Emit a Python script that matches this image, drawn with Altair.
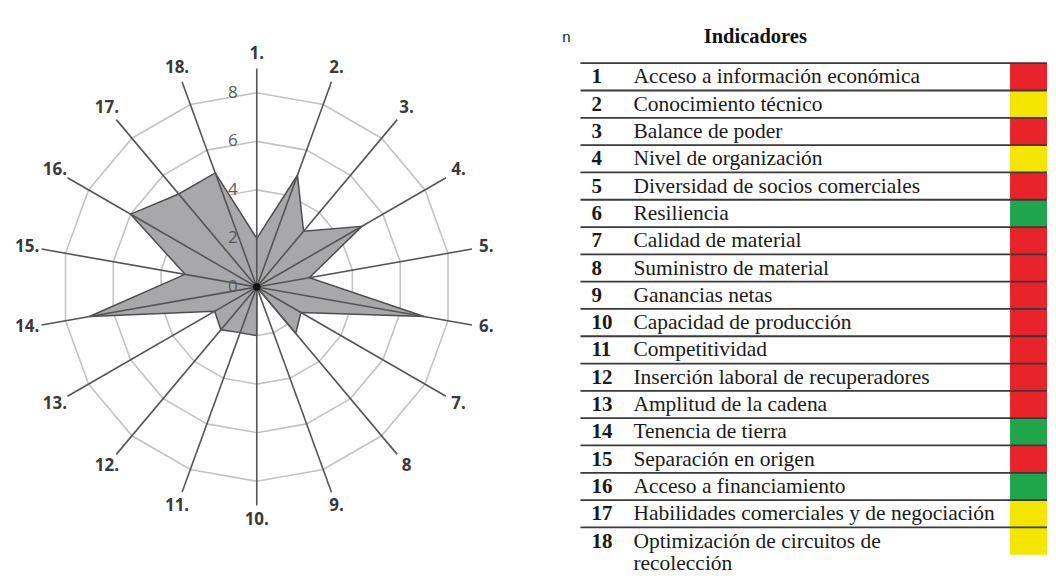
import altair as alt
import pandas as pd

# ---------------- data ----------------
indicador_n = list(range(1, 19))
valores = [2, 4.9, 3, 5, 2.2, 7, 2.1, 2.5, 0, 2, 2, 2.3, 2, 7, 3, 6, 5, 5]
etiquetas_radar = ["1.", "2.", "3.", "4.", "5.", "6.", "7.", "8", "9.", "10.",
                   "11.", "12.", "13.", "14.", "15.", "16.", "17.", "18."]
niveles_anillo = [2, 4, 6, 8]
niveles_texto = ["0", "2", "4", "6", "8"]
niveles_valor = [0, 2, 4, 6, 8]
nombres = [
    "Acceso a información económica",
    "Conocimiento técnico",
    "Balance de poder",
    "Nivel de organización",
    "Diversidad de socios comerciales",
    "Resiliencia",
    "Calidad de material",
    "Suministro de material",
    "Ganancias netas",
    "Capacidad de producción",
    "Competitividad",
    "Inserción laboral de recuperadores",
    "Amplitud de la cadena",
    "Tenencia de tierra",
    "Separación en origen",
    "Acceso a financiamiento",
    "Habilidades comerciales y de negociación",
    "Optimización de circuitos de\nrecolección",
]
estado = ["rojo", "amarillo", "rojo", "amarillo", "rojo", "verde", "rojo", "rojo",
          "rojo", "rojo", "rojo", "rojo", "rojo", "verde", "rojo", "verde",
          "amarillo", "amarillo"]
estado_orden = ["rojo", "amarillo", "verde"]
estado_color = ["#e8232a", "#f4e600", "#1fa64a"]
cabecera_n = "n"
cabecera_ind = "Indicadores"
radio_eje = 9
radio_etiqueta = 9.6

# ---------------- layout (pixels) ----------------
RW, RH = 500, 560          # radar view
CX, CY = 249, 279          # centre inside radar view
S = 24.3                   # px per unit
TW, TH = 488, 560          # table view
ROW_TOP = 55               # y of first table line inside table view
ROW_H = 27.33
BOX_X = 451

xs = alt.Scale(domain=[-CX / S, (RW - CX) / S], nice=False, zero=False)
ys = alt.Scale(domain=[-(RH - CY) / S, CY / S], nice=False, zero=False)

ANG = "(datum.n - 1) * PI / 9"

poly = pd.DataFrame({"n": indicador_n + [19], "v": valores + [valores[0]]})
rings = pd.DataFrame([{"lvl": l, "n": k} for l in niveles_anillo for k in range(1, 20)])
spokes = pd.DataFrame({"n": indicador_n, "lab": etiquetas_radar})
ticks = pd.DataFrame({"t": niveles_texto, "v": niveles_valor})

ring_layer = alt.Chart(rings).mark_line(stroke="#c3c3c3", strokeWidth=1.6).transform_calculate(
    x=f"datum.lvl * sin({ANG})", y=f"datum.lvl * cos({ANG})"
).encode(
    x=alt.X("x:Q", scale=xs, axis=None),
    y=alt.Y("y:Q", scale=ys, axis=None),
    detail="lvl:N",
    order="n:Q",
)

poly_layer = alt.Chart(poly).mark_line(
    fill="#a8a8ab", stroke="#4d4d4d", strokeWidth=1.5, fillOpacity=1
).transform_calculate(
    x=f"datum.v * sin({ANG})", y=f"datum.v * cos({ANG})"
).encode(
    x=alt.X("x:Q", scale=xs, axis=None),
    y=alt.Y("y:Q", scale=ys, axis=None),
    order="n:Q",
)

spoke_layer = alt.Chart(spokes).mark_rule(color="#555555", strokeWidth=1.6).transform_calculate(
    x0="0", y0="0",
    xe=f"{radio_eje} * sin({ANG})", ye=f"{radio_eje} * cos({ANG})",
).encode(
    x=alt.X("x0:Q", scale=xs, axis=None),
    y=alt.Y("y0:Q", scale=ys, axis=None),
    x2="xe:Q",
    y2="ye:Q",
)

dot_layer = alt.Chart(pd.DataFrame({"v": [0]})).mark_circle(size=55, color="#111111", opacity=1).encode(
    x=alt.X("v:Q", scale=xs, axis=None),
    y=alt.Y("v:Q", scale=ys, axis=None),
)

label_layer = alt.Chart(spokes).mark_text(
    font="Open Sans", fontWeight="bold", fontSize=17, color="#3a3a3a",
    align="center", baseline="middle"
).transform_calculate(
    x=f"{radio_etiqueta} * sin({ANG})", y=f"{radio_etiqueta} * cos({ANG})"
).encode(
    x=alt.X("x:Q", scale=xs, axis=None),
    y=alt.Y("y:Q", scale=ys, axis=None),
    text="lab:N",
)

tick_layer = alt.Chart(ticks).mark_text(
    font="Open Sans", fontSize=17, color="#5a5a5a", align="center", baseline="middle", dx=-24
).transform_calculate(x0="0").encode(
    x=alt.X("x0:Q", scale=xs, axis=None),
    y=alt.Y("v:Q", scale=ys, axis=None),
    text="t:N",
)

radar = alt.layer(
    ring_layer, poly_layer, spoke_layer, dot_layer, tick_layer, label_layer
).properties(width=RW, height=RH)

# ---------------- table ----------------
tabla = pd.DataFrame({"n": indicador_n, "nombre": nombres, "estado": estado})
p_top = -ROW_TOP / ROW_H
p_bot = (TH - ROW_TOP) / ROW_H
ts = alt.Scale(domain=[p_top, p_bot], range=[0, TH], nice=False, zero=False)

box_layer = alt.Chart(tabla).mark_rect().transform_calculate(
    p0="datum.n - 1", p1="datum.n"
).encode(
    x=alt.value(BOX_X), x2=alt.value(TW),
    y=alt.Y("p0:Q", scale=ts, axis=None), y2="p1:Q",
    color=alt.Color("estado:N", scale=alt.Scale(domain=estado_orden, range=estado_color), legend=None),
)

lines = pd.DataFrame({"p": list(range(0, 18))})
line_layer = alt.Chart(lines).mark_rule(color="#3a3a3a", strokeWidth=1.8).encode(
    x=alt.value(21), x2=alt.value(TW),
    y=alt.Y("p:Q", scale=ts, axis=None),
)

num_layer = alt.Chart(tabla).mark_text(
    font="Liberation Serif", fontWeight="bold", fontSize=21, color="#1a1a1a",
    align="left", baseline="alphabetic"
).transform_calculate(pt="datum.n - 1 + 0.74").encode(
    x=alt.value(32), y=alt.Y("pt:Q", scale=ts, axis=None), text="n:N",
)

txt_layer = alt.Chart(tabla).mark_text(
    font="Liberation Serif", fontSize=21.5, color="#1a1a1a",
    align="left", baseline="alphabetic", lineBreak="\n", lineHeight=22
).transform_calculate(pt="datum.n - 1 + 0.74").encode(
    x=alt.value(74), y=alt.Y("pt:Q", scale=ts, axis=None), text="nombre:N",
)

hdr = pd.DataFrame({"p": [-0.95]})
hdr_n = alt.Chart(hdr).mark_text(
    font="Liberation Sans", fontSize=15, color="#222222", align="center", baseline="middle", text=cabecera_n
).encode(x=alt.value(7), y=alt.Y("p:Q", scale=ts, axis=None))
hdr_i = alt.Chart(hdr).mark_text(
    font="Liberation Serif", fontWeight="bold", fontSize=20.5, color="#111111",
    align="center", baseline="middle", text=cabecera_ind
).encode(x=alt.value(196), y=alt.Y("p:Q", scale=ts, axis=None))

table = alt.layer(box_layer, line_layer, num_layer, txt_layer, hdr_n, hdr_i).properties(width=TW, height=TH)

chart = alt.hconcat(radar, table, spacing=52).properties(padding=0).configure_view(stroke=None)

chart.save("out.html", embed_options={"renderer": "svg", "actions": False})
